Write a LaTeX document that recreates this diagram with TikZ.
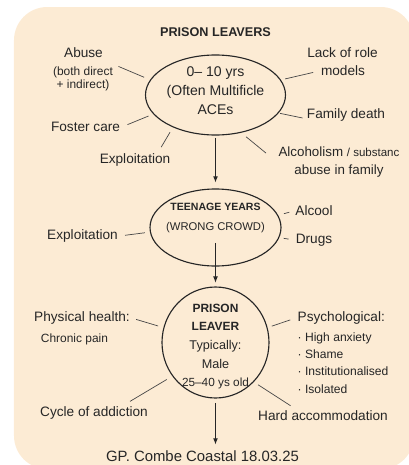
\documentclass[tikz,border=0pt]{standalone}
\usepackage{fontspec}
\setmainfont{Liberation Sans}
\usetikzlibrary{shapes.geometric,arrows.meta}
\definecolor{bgpeach}{RGB}{252,235,212}
\definecolor{inkgray}{RGB}{38,38,38}
\newcommand\lblfont{\fontsize{9.7}{12}\selectfont}
\newcommand\smlfont{\fontsize{8.5}{9.2}\selectfont}

\begin{document}
\begin{tikzpicture}[x=2.5mm,y=-2.5mm,
  every node/.style={text=inkgray,inner sep=1pt},
  bubble/.style={ellipse,draw=inkgray,line width=.8pt,inner sep=0pt,outer sep=0pt},
  spoke/.style={draw=inkgray!85,line width=.5pt},
  flow/.style={-{Latex[length=4.5pt,width=3.4pt]},draw=inkgray,line width=.7pt}]
\useasboundingbox (0,0) rectangle (40.9,46.5);
\fill[bgpeach,rounded corners=8.3mm] (1.4,0.7) rectangle (41.4,46.9);

% title and the three stages
\node[font=\bfseries\fontsize{9}{11}\selectfont] (title) at (21.55,3.2) {PRISON LEAVERS};
\node[bubble,minimum width=3.5cm,minimum height=2cm] (e1) at (21.55,9.5) {};
\node[font=\fontsize{10}{13.5}\selectfont,align=center] (e1text) at (21.55,9.1)
  {0-- 10 yrs\\(Often Multificle\\ACEs};
\node[bubble,minimum width=3.275cm,minimum height=1.925cm] (e2) at (21.55,22.75) {};
\node[font=\fontsize{8}{14.2}\selectfont,align=center] (e2text) at (21.55,21.8)
  {{\bfseries\fontsize{7.5}{14.2}\selectfont TEENAGE YEARS}\\(WRONG CROWD)};
\node[bubble,minimum width=2.675cm,minimum height=2.775cm] (e3) at (21.55,34.25) {};
\node[font=\fontsize{9}{13.3}\selectfont,align=center] (e3text) at (21.55,34.65)
  {{\bfseries\fontsize{8.5}{13.3}\selectfont PRISON}\\{\bfseries\fontsize{8.5}{13.3}\selectfont LEAVER}\\Typically:\\Male\\{\fontsize{8.4}{13.3}\selectfont 25--40 ys old}};
\node[font=\fontsize{10.6}{12}\selectfont] (gp) at (20.25,45.6) {GP. Combe Coastal 18.03.25};

% labels round the first stage
\node[font=\lblfont] (abuse) at (8.35,5.3) {Abuse};
\node[font=\smlfont,align=center] (abuseB) at (8.3,7.85) {(both direct\\+ indirect)};
\node[font=\lblfont] (lackA) at (34.25,5.3) {Lack of role};
\node[font=\lblfont] (lackB) at (34.3,7.1) {models};
\node[font=\lblfont] (foster) at (8.55,12.7) {Foster care};
\node[font=\lblfont] (family) at (34.6,11.5) {Family death};
\node[font=\lblfont] (exploitA) at (13.5,16.0) {Exploitation};
\node[font=\fontsize{9.5}{12.8}\selectfont,align=center] (alc) at (33.9,16.2)
  {Alcoholism {\fontsize{8.2}{12.8}\selectfont/ substanc}\\abuse in family};

% labels round the second stage
\node[font=\lblfont] (exploitB) at (8.25,23.6) {Exploitation};
\node[font=\lblfont] (alcool) at (31.4,21.1) {Alcool};
\node[font=\lblfont] (drugs) at (31.4,24.0) {Drugs};

% labels round the third stage
\node[font=\lblfont] (phys) at (8.2,31.8) {Physical health:};
\node[font=\smlfont] (chronic) at (7.45,33.9) {Chronic pain};
\node[font=\lblfont,anchor=west] (psych) at (29.6,31.8) {Psychological:};
\node[font=\fontsize{8.6}{12.3}\selectfont,align=left,anchor=west] (psylist) at (29.6,36.3)
  {· High anxiety\\· Shame\\· Institutionalised\\· Isolated};
\node[font=\lblfont] (cycle) at (9.4,41.3) {Cycle of addiction};
\node[font=\lblfont] (hard) at (32.3,41.6) {Hard accommodation};

% spokes
\foreach \a/\b/\s/\t in {abuseB.north east/e1.167/3pt/5pt, e1.13/lackB.west/3.5pt/4.5pt,
  foster.east/e1.197/4.5pt/4pt, e1.344/family.185/1.5pt/2pt,
  exploitA.19/e1.217/4pt/4.5pt, e1.304/alc.west/5pt/10pt,
  exploitB.east/e2.184/4pt/4pt, e2.11/alcool.west/4.6pt/3.2pt, e2.351/drugs.west/3.5pt/4pt,
  phys.east/e3.164/3.5pt/4.3pt, e3.16/psych.west/3.5pt/4.3pt,
  cycle.15/e3.218/5pt/5pt, e3.314/hard.166/4pt/4.7pt}{
  \draw[spoke,shorten <=\s,shorten >=\t] (\a) -- (\b);
  }

% arrows down the path
\draw[flow,shorten <=2pt,shorten >=4.5pt] (e1.south) -- (e2.north);
\draw[flow,shorten <=6pt,shorten >=3pt] (e2text.south) -- (e3.north);
\draw[flow,shorten <=3.5pt,shorten >=3pt] (e3.south) -- (e3.south |- gp.north);
\end{tikzpicture}
\end{document}
